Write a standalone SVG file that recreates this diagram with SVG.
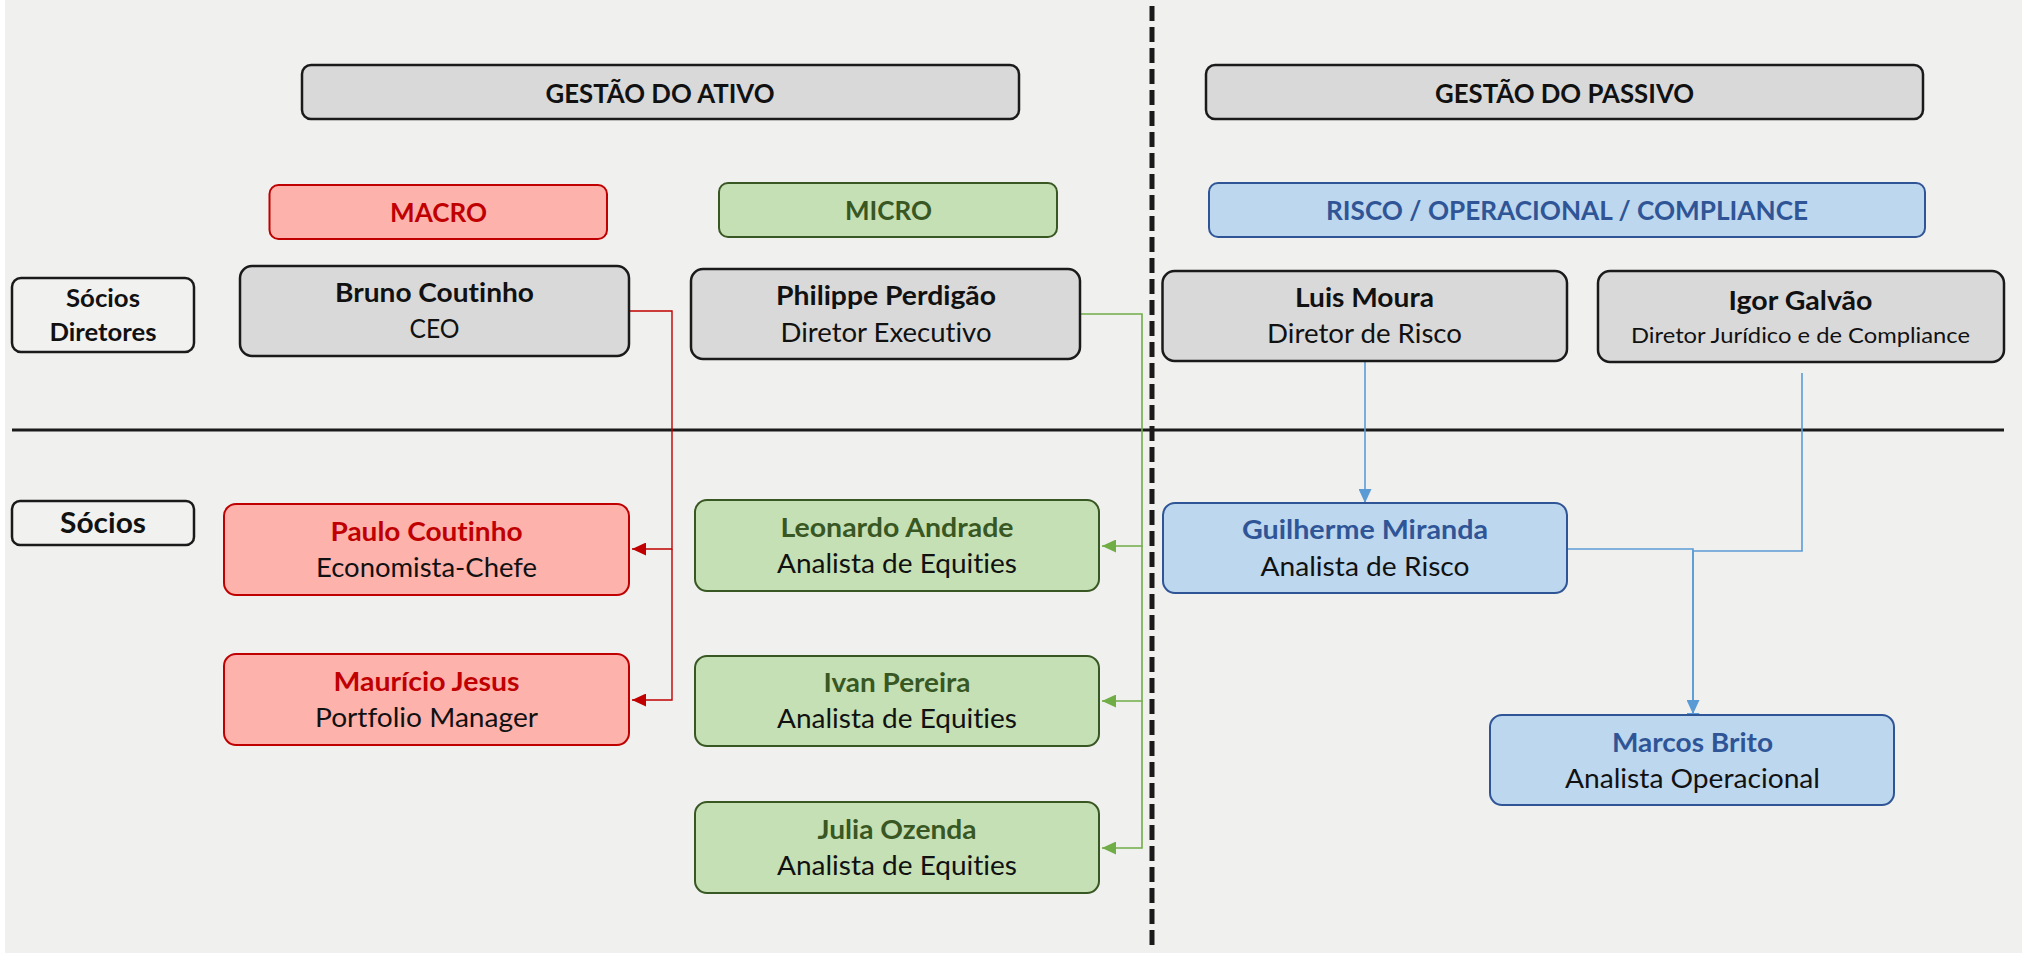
<svg xmlns="http://www.w3.org/2000/svg" width="2022" height="953" viewBox="0 0 2022 953">
<style>
text{font-family:Lato,"Open Sans","Liberation Sans",sans-serif;text-anchor:middle;font-size:26.5px;font-variant-ligatures:none;font-feature-settings:"liga" 0,"dlig" 0}
.b{font-weight:700}
.gray{fill:#D9D9D9;stroke:#1A1A1A;stroke-width:2.5}
.lab{fill:#F1F1F0;stroke:#1A1A1A;stroke-width:2.5}
.red{fill:#FDB2AC;stroke:#C00000;stroke-width:2}
.grn{fill:#C5E0B4;stroke:#385723;stroke-width:2}
.blu{fill:#BDD7EE;stroke:#2F5597;stroke-width:2}
.tr{fill:#C00000}.tg{fill:#385723}.tb{fill:#2F5597}.tk{fill:#111}
.cr{fill:none;stroke:#C00000;stroke-width:1.4}
.cg{fill:none;stroke:#70AD47;stroke-width:1.6}
.cb{fill:none;stroke:#5B9BD5;stroke-width:1.6}
</style>
<defs>
<marker id="ar" markerUnits="userSpaceOnUse" markerWidth="15" markerHeight="13" refX="14" refY="6.5" orient="auto"><path d="M0,0 L14,6.5 L0,13 z" fill="#C00000"/></marker>
<marker id="ag" markerUnits="userSpaceOnUse" markerWidth="15" markerHeight="13" refX="14" refY="6.5" orient="auto"><path d="M0,0 L14,6.5 L0,13 z" fill="#70AD47"/></marker>
<marker id="ab" markerUnits="userSpaceOnUse" markerWidth="15" markerHeight="13" refX="14" refY="6.5" orient="auto"><path d="M0,0 L14,6.5 L0,13 z" fill="#5B9BD5"/></marker>
</defs>
<rect x="0" y="0" width="2022" height="953" fill="#FFFFFF"/>
<rect x="5" y="0" width="2017" height="953" fill="#F0F0EF"/>

<g id="dividers">
<line x1="12" y1="430" x2="2004" y2="430" stroke="#1A1A1A" stroke-width="3"/>
<line x1="1152" y1="6" x2="1152" y2="948" stroke="#1A1A1A" stroke-width="5" stroke-dasharray="15 6"/>
</g>

<g id="connectors">
<path class="cr" d="M629,311 H672 V549 H632" marker-end="url(#ar)"/>
<path class="cr" d="M672,549 V700 H632" marker-end="url(#ar)"/>
<path class="cg" d="M1081,314 H1142 V546 H1102" marker-end="url(#ag)"/>
<path class="cg" d="M1142,546 V701 H1102" marker-end="url(#ag)"/>
<path class="cg" d="M1142,701 V848 H1102" marker-end="url(#ag)"/>
<path class="cb" d="M1365,361 V503" marker-end="url(#ab)"/>
<path class="cb" d="M1568,549 H1693 V714" marker-end="url(#ab)"/>
<path class="cb" d="M1802,373 V551 H1693 V727" marker-end="url(#ab)"/>
</g>

<g id="gestao-ativo"><rect class="gray" x="302" y="65" width="717" height="54" rx="9"/><text class="b tk" x="660" y="103" textLength="229" lengthAdjust="spacingAndGlyphs">GESTÃO DO ATIVO</text></g>
<g id="gestao-passivo"><rect class="gray" x="1206" y="65" width="717" height="54" rx="9"/><text class="b tk" x="1564.5" y="103" textLength="259" lengthAdjust="spacingAndGlyphs">GESTÃO DO PASSIVO</text></g>
<g id="macro"><rect class="red" x="269.5" y="185" width="337.5" height="54" rx="9"/><text class="b tr" x="438.5" y="222" textLength="97" lengthAdjust="spacingAndGlyphs">MACRO</text></g>
<g id="micro"><rect class="grn" x="719" y="183" width="338" height="54" rx="9"/><text class="b tg" x="888.5" y="220" textLength="87" lengthAdjust="spacingAndGlyphs">MICRO</text></g>
<g id="risco"><rect class="blu" x="1209" y="183" width="716" height="54" rx="9"/><text class="b tb" x="1567" y="220" textLength="482" lengthAdjust="spacingAndGlyphs">RISCO / OPERACIONAL / COMPLIANCE</text></g>

<g id="socios-diretores"><rect class="lab" x="12" y="278" width="182" height="74" rx="9"/><text class="b tk" x="103" y="307" style="font-size:24px" textLength="74" lengthAdjust="spacingAndGlyphs">Sócios</text><text class="b tk" x="103" y="341" style="font-size:24px" textLength="107" lengthAdjust="spacingAndGlyphs">Diretores</text></g>
<g id="socios"><rect class="lab" x="12" y="501" width="182" height="44" rx="8"/><text class="b tk" x="103" y="533" style="font-size:29px" textLength="86" lengthAdjust="spacingAndGlyphs">Sócios</text></g>

<g id="bruno"><rect class="gray" x="240" y="266" width="389" height="90" rx="12"/><text class="b tk" x="434.5" y="302" textLength="199" lengthAdjust="spacingAndGlyphs">Bruno Coutinho</text><text class="tk" x="434.5" y="338" textLength="50" lengthAdjust="spacingAndGlyphs">CEO</text></g>
<g id="philippe"><rect class="gray" x="691" y="269" width="389" height="90" rx="12"/><text class="b tk" x="886" y="305" textLength="220" lengthAdjust="spacingAndGlyphs">Philippe Perdigão</text><text class="tk" x="886" y="342" textLength="211" lengthAdjust="spacingAndGlyphs">Diretor Executivo</text></g>
<g id="luis"><rect class="gray" x="1162.5" y="271" width="404.5" height="90" rx="12"/><text class="b tk" x="1364.5" y="307" textLength="139" lengthAdjust="spacingAndGlyphs">Luis Moura</text><text class="tk" x="1364.5" y="343" textLength="195" lengthAdjust="spacingAndGlyphs">Diretor de Risco</text></g>
<g id="igor"><rect class="gray" x="1598" y="271" width="406" height="91" rx="12"/><text class="b tk" x="1800.5" y="310" textLength="144" lengthAdjust="spacingAndGlyphs">Igor Galvão</text><text class="tk" x="1800.5" y="343" style="font-size:21px" textLength="339" lengthAdjust="spacingAndGlyphs">Diretor Jurídico e de Compliance</text></g>

<g id="paulo"><rect class="red" x="224" y="504" width="405" height="91" rx="12"/><text class="b tr" x="426.5" y="541" textLength="192" lengthAdjust="spacingAndGlyphs">Paulo Coutinho</text><text class="tk" x="426.5" y="577" textLength="221" lengthAdjust="spacingAndGlyphs">Economista-Chefe</text></g>
<g id="mauricio"><rect class="red" x="224" y="654" width="405" height="91" rx="12"/><text class="b tr" x="426.5" y="691" textLength="186" lengthAdjust="spacingAndGlyphs">Maurício Jesus</text><text class="tk" x="426.5" y="727" textLength="223" lengthAdjust="spacingAndGlyphs">Portfolio Manager</text></g>

<g id="leonardo"><rect class="grn" x="695" y="500" width="404" height="91" rx="12"/><text class="b tg" x="897" y="537" textLength="233" lengthAdjust="spacingAndGlyphs">Leonardo Andrade</text><text class="tk" x="897" y="573" textLength="240" lengthAdjust="spacingAndGlyphs">Analista de Equities</text></g>
<g id="ivan"><rect class="grn" x="695" y="656" width="404" height="90" rx="12"/><text class="b tg" x="897" y="692" textLength="147" lengthAdjust="spacingAndGlyphs">Ivan Pereira</text><text class="tk" x="897" y="728" textLength="240" lengthAdjust="spacingAndGlyphs">Analista de Equities</text></g>
<g id="julia"><rect class="grn" x="695" y="802" width="404" height="91" rx="12"/><text class="b tg" x="897" y="839" textLength="159" lengthAdjust="spacingAndGlyphs">Julia Ozenda</text><text class="tk" x="897" y="875" textLength="240" lengthAdjust="spacingAndGlyphs">Analista de Equities</text></g>

<g id="guilherme"><rect class="blu" x="1163" y="503" width="404" height="90" rx="12"/><text class="b tb" x="1365" y="539" textLength="246" lengthAdjust="spacingAndGlyphs">Guilherme Miranda</text><text class="tk" x="1365" y="576" textLength="209" lengthAdjust="spacingAndGlyphs">Analista de Risco</text></g>
<g id="marcos"><rect class="blu" x="1490" y="715" width="404" height="90" rx="12"/><text class="b tb" x="1692.5" y="752" textLength="161" lengthAdjust="spacingAndGlyphs">Marcos Brito</text><text class="tk" x="1692.5" y="788" textLength="255" lengthAdjust="spacingAndGlyphs">Analista Operacional</text></g>
</svg>
